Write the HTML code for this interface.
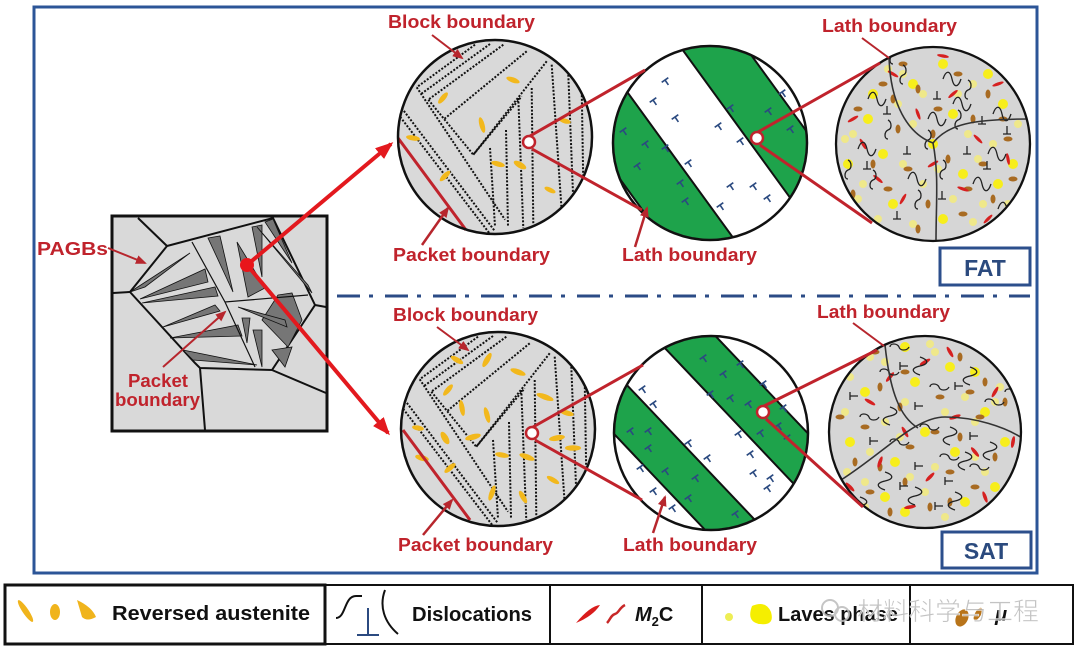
<!DOCTYPE html>
<html><head><meta charset="utf-8">
<style>
html,body{margin:0;padding:0;background:#fff;}
svg{display:block;}
.lb{font-family:"Liberation Sans",Arial,sans-serif;font-weight:bold;font-size:18px;fill:#c0232c;}
.lg{font-family:"Liberation Sans",Arial,sans-serif;font-weight:bold;font-size:20px;fill:#111;}
</style></head>
<body>
<svg width="1080" height="657" viewBox="0 0 1080 657" xmlns="http://www.w3.org/2000/svg">
<defs>
<clipPath id="c1t"><circle cx="495" cy="137" r="97"/></clipPath>
<clipPath id="c1b"><circle cx="498" cy="429" r="97"/></clipPath>
<clipPath id="cl"><circle cx="0" cy="0" r="96"/></clipPath>
<marker id="ah" markerWidth="18" markerHeight="14" refX="15" refY="7" orient="auto" markerUnits="userSpaceOnUse"><path d="M0,0 L18,7 L0,14 Z" fill="#e3191e"/></marker>
<marker id="sh" markerWidth="11" markerHeight="9" refX="9" refY="4.5" orient="auto" markerUnits="userSpaceOnUse"><path d="M0,0 L11,4.5 L0,9 Z" fill="#b7262d"/></marker>
</defs>
<rect width="1080" height="657" fill="#fff"/>

<!-- outer frame -->
<rect x="34" y="7" width="1003" height="566" fill="none" stroke="#2c5597" stroke-width="3"/>
<line x1="337" y1="296" x2="1030" y2="296" stroke="#2b4b86" stroke-width="3" stroke-dasharray="23 9 4 12"/>

<!-- FAT / SAT -->
<rect x="940" y="248" width="90" height="37" fill="#fff" stroke="#2c4f8c" stroke-width="3"/>
<text x="985" y="276" text-anchor="middle" style="font-family:'Liberation Sans',Arial,sans-serif;font-weight:bold;font-size:23px;fill:#2b4a7e">FAT</text>
<rect x="942" y="532" width="89" height="36" fill="#fff" stroke="#2c4f8c" stroke-width="3"/>
<text x="986" y="559" text-anchor="middle" style="font-family:'Liberation Sans',Arial,sans-serif;font-weight:bold;font-size:23px;fill:#2b4a7e">SAT</text>

<!-- LEFT SQUARE -->
<rect x="112" y="216" width="215" height="215" fill="#d9d9d9" stroke="#111" stroke-width="3"/>
<path d="M167,246 L273,218 L315,305 L272,370 L200,368 L195,363 L130,292 Z" fill="#d9d9d9" stroke="#111" stroke-width="2"/>
<path d="M138,218 L167,246 M130,292 L113,293 M315,305 L326,307 M272,370 L326,393 M200,368 L205,430" stroke="#111" stroke-width="2" fill="none"/>
<g fill="#767676" stroke="#111" stroke-width="0.8">
<polygon points="130,292 190,253 145,287"/>
<polygon points="140,299 205,269 208,282"/>
<polygon points="142,303 215,287 218,296"/>
<polygon points="163,327 215,305 220,311"/>
<polygon points="170,338 238,325 242,336"/>
<polygon points="183,350 257,365 193,360"/>
<polygon points="208,238 220,236 233,292"/>
<polygon points="237,242 265,288 248,297"/>
<polygon points="252,227 262,225 262,277"/>
<polygon points="265,222 273,219 292,263"/>
<polygon points="257,227 308,285 312,293"/>
<polygon points="278,295 292,293 302,320 288,347 262,320"/>
<polygon points="242,318 250,318 247,343"/>
<polygon points="253,330 262,330 262,367"/>
<polygon points="272,350 292,347 285,367"/>
<polygon points="238,307 285,320 287,327"/>
</g>
<path d="M192,242 L225,302 L308,295 M225,302 L255,367" stroke="#111" stroke-width="1.2" fill="none"/>

<!-- left labels -->
<text class="lb" x="37" y="255" textLength="71" lengthAdjust="spacingAndGlyphs">PAGBs</text>
<line x1="108" y1="248" x2="145" y2="263" stroke="#b7262d" stroke-width="2" marker-end="url(#sh)"/>
<text class="lb" x="128" y="387" textLength="60" lengthAdjust="spacingAndGlyphs">Packet</text>
<text class="lb" x="115" y="406" textLength="85" lengthAdjust="spacingAndGlyphs">boundary</text>
<line x1="163" y1="367" x2="225" y2="312" stroke="#b7262d" stroke-width="2" marker-end="url(#sh)"/>

<!-- main arrows -->
<line x1="247" y1="265" x2="391" y2="144" stroke="#e3191e" stroke-width="4" marker-end="url(#ah)"/>
<line x1="247" y1="265" x2="388" y2="433" stroke="#e3191e" stroke-width="4" marker-end="url(#ah)"/>
<circle cx="247" cy="265" r="7" fill="#e8161b"/>

<!-- ============ TOP CIRCLE 1 ============ -->
<circle cx="495" cy="137" r="97" fill="#d9d9d9"/>
<g clip-path="url(#c1t)" stroke="#111" stroke-width="2" stroke-dasharray="2 1.6" fill="none">
<path d="M475,44.7 L416.7,87.3 M503.3,44.7 L428.3,99.7 M526.7,51.3 L443.3,119.7 M546.7,61.3 L473.3,154.7 M401.7,108 L495,231.3 M416.7,87.3 L505,219.7 M428.3,99.7 L473.3,154.7 M473.3,154.7 L521.7,96.3 M518.3,98 L523.3,228 M490,148 L495,226.3 M531.7,88 L533.3,224.7 M551.7,64.7 L561.7,211.3 M568.3,74.7 L573.3,201.3 M581.7,88 L583.3,184.7 M490,44 L421,94 M398,114 L490,234 M506,130 L508,226"/>
</g>
<g fill="#f2b81c">
<ellipse cx="513" cy="80" rx="7" ry="2.6" transform="rotate(20 513 80)"/>
<ellipse cx="443" cy="98" rx="7" ry="2.6" transform="rotate(-50 443 98)"/>
<ellipse cx="482" cy="125" rx="8" ry="2.6" transform="rotate(75 482 125)"/>
<ellipse cx="413" cy="138" rx="7" ry="2.6" transform="rotate(10 413 138)"/>
<ellipse cx="445" cy="176" rx="7" ry="2.6" transform="rotate(-45 445 176)"/>
<ellipse cx="498" cy="164" rx="7" ry="2.6" transform="rotate(15 498 164)"/>
<ellipse cx="520" cy="165" rx="7" ry="3" transform="rotate(30 520 165)"/>
<ellipse cx="565" cy="121" rx="6" ry="2.4" transform="rotate(15 565 121)"/>
<ellipse cx="550" cy="190" rx="6" ry="2.4" transform="rotate(25 550 190)"/>
</g>
<line x1="398" y1="138" x2="466" y2="230" stroke="#c0232c" stroke-width="3"/>
<circle cx="495" cy="137" r="97" fill="none" stroke="#111" stroke-width="2.5"/>

<!-- ============ BOTTOM CIRCLE 1 ============ -->
<circle cx="498" cy="429" r="97" fill="#d9d9d9"/>
<g clip-path="url(#c1b)" stroke="#111" stroke-width="2" stroke-dasharray="2 1.6" fill="none">
<g transform="translate(3,292)">
<path d="M475,44.7 L416.7,87.3 M503.3,44.7 L428.3,99.7 M526.7,51.3 L443.3,119.7 M546.7,61.3 L473.3,154.7 M401.7,108 L495,231.3 M416.7,87.3 L505,219.7 M428.3,99.7 L473.3,154.7 M473.3,154.7 L521.7,96.3 M518.3,98 L523.3,228 M490,148 L495,226.3 M531.7,88 L533.3,224.7 M551.7,64.7 L561.7,211.3 M568.3,74.7 L573.3,201.3 M581.7,88 L583.3,184.7 M490,44 L421,94 M398,114 L490,234 M506,130 L508,226"/>
</g>
</g>
<g fill="#f2b81c">
<ellipse cx="457" cy="360" rx="7" ry="2.6" transform="rotate(30 457 360)"/>
<ellipse cx="487" cy="360" rx="8" ry="2.8" transform="rotate(-60 487 360)"/>
<ellipse cx="518" cy="372" rx="8" ry="2.8" transform="rotate(20 518 372)"/>
<ellipse cx="448" cy="390" rx="7" ry="2.6" transform="rotate(-50 448 390)"/>
<ellipse cx="462" cy="408" rx="8" ry="2.6" transform="rotate(80 462 408)"/>
<ellipse cx="487" cy="415" rx="8" ry="2.6" transform="rotate(75 487 415)"/>
<ellipse cx="545" cy="397" rx="9" ry="2.8" transform="rotate(20 545 397)"/>
<ellipse cx="418" cy="428" rx="6" ry="2.5" transform="rotate(10 418 428)"/>
<ellipse cx="445" cy="438" rx="7" ry="3.2" transform="rotate(60 445 438)"/>
<ellipse cx="473" cy="437" rx="8" ry="2.8" transform="rotate(-15 473 437)"/>
<ellipse cx="557" cy="438" rx="8" ry="2.8" transform="rotate(-10 557 438)"/>
<ellipse cx="573" cy="448" rx="8" ry="2.8" transform="rotate(0 573 448)"/>
<ellipse cx="422" cy="458" rx="7" ry="2.8" transform="rotate(15 422 458)"/>
<ellipse cx="450" cy="468" rx="7" ry="2.6" transform="rotate(-40 450 468)"/>
<ellipse cx="502" cy="455" rx="7" ry="2.6" transform="rotate(10 502 455)"/>
<ellipse cx="527" cy="457" rx="8" ry="2.8" transform="rotate(20 527 457)"/>
<ellipse cx="553" cy="480" rx="7" ry="2.5" transform="rotate(30 553 480)"/>
<ellipse cx="492" cy="493" rx="8" ry="2.6" transform="rotate(-70 492 493)"/>
<ellipse cx="523" cy="497" rx="7" ry="2.6" transform="rotate(60 523 497)"/>
<ellipse cx="567" cy="413" rx="7" ry="2.6" transform="rotate(15 567 413)"/>
</g>
<line x1="403" y1="430" x2="470" y2="520" stroke="#c0232c" stroke-width="3"/>
<circle cx="498" cy="429" r="97" fill="none" stroke="#111" stroke-width="2.5"/>

<!-- ============ TOP CIRCLE 2 ============ -->
<g transform="translate(710,143)">
<g clip-path="url(#cl)">
<circle r="97" fill="#fff"/>
<g transform="rotate(54)">
<rect x="-110" y="37" width="220" height="57" fill="#1ea34b"/>
<rect x="-110" y="-85" width="220" height="52.4" fill="#1ea34b"/>
<path d="M-110,37H110M-110,94H110M-110,-32.6H110M-110,-85H110" stroke="#111" stroke-width="2"/>
</g>
</g>
</g>
<path fill="none" stroke="#2b4a80" stroke-width="1.6" d="M661.7,82.3l6.6,-4.6m-3.3,2.3l3.4,4.9M649.7,102.3l6.6,-4.6m-3.3,2.3l3.4,4.9M671.7,119.3l6.6,-4.6m-3.3,2.3l3.4,4.9M714.7,127.3l6.6,-4.6m-3.3,2.3l3.4,4.9M736.7,142.3l6.6,-4.6m-3.3,2.3l3.4,4.9M684.7,164.3l6.6,-4.6m-3.3,2.3l3.4,4.9M726.7,187.3l6.6,-4.6m-3.3,2.3l3.4,4.9M749.7,187.3l6.6,-4.6m-3.3,2.3l3.4,4.9M763.7,199.3l6.6,-4.6m-3.3,2.3l3.4,4.9M716.7,207.3l6.6,-4.6m-3.3,2.3l3.4,4.9M778.7,94.3l6.6,-4.6m-3.3,2.3l3.4,4.9M764.7,112.3l6.6,-4.6m-3.3,2.3l3.4,4.9M786.7,130.3l6.6,-4.6m-3.3,2.3l3.4,4.9M619.7,132.3l6.6,-4.6m-3.3,2.3l3.4,4.9M641.7,145.3l6.6,-4.6m-3.3,2.3l3.4,4.9M661.7,149.3l6.6,-4.6m-3.3,2.3l3.4,4.9M633.7,167.3l6.6,-4.6m-3.3,2.3l3.4,4.9M676.7,184.3l6.6,-4.6m-3.3,2.3l3.4,4.9M681.7,202.3l6.6,-4.6m-3.3,2.3l3.4,4.9M726.7,109.3l6.6,-4.6m-3.3,2.3l3.4,4.9"/>
<circle cx="710" cy="143" r="97" fill="none" stroke="#111" stroke-width="2.5"/>

<!-- ============ BOTTOM CIRCLE 2 ============ -->
<g transform="translate(711,433)">
<g clip-path="url(#cl)">
<circle r="97" fill="#fff"/>
<g transform="rotate(46.5)">
<rect x="-110" y="28" width="220" height="43" fill="#1ea34b"/>
<rect x="-110" y="-70" width="220" height="45" fill="#1ea34b"/>
<path d="M-110,28H110M-110,71H110M-110,-25H110M-110,-70H110" stroke="#111" stroke-width="2"/>
</g>
</g>
</g>
<path fill="none" stroke="#2b4a80" stroke-width="1.6" d="M699.7,359.3l6.6,-4.6m-3.3,2.3l3.4,4.9M719.7,375.3l6.6,-4.6m-3.3,2.3l3.4,4.9M706.7,395.3l6.6,-4.6m-3.3,2.3l3.4,4.9M726.7,399.3l6.6,-4.6m-3.3,2.3l3.4,4.9M744.7,405.3l6.6,-4.6m-3.3,2.3l3.4,4.9M736.7,365.3l6.6,-4.6m-3.3,2.3l3.4,4.9M759.7,385.3l6.6,-4.6m-3.3,2.3l3.4,4.9M779.7,409.3l6.6,-4.6m-3.3,2.3l3.4,4.9M756.7,434.3l6.6,-4.6m-3.3,2.3l3.4,4.9M774.7,427.3l6.6,-4.6m-3.3,2.3l3.4,4.9M638.7,390.3l6.6,-4.6m-3.3,2.3l3.4,4.9M649.7,405.3l6.6,-4.6m-3.3,2.3l3.4,4.9M626.7,432.3l6.6,-4.6m-3.3,2.3l3.4,4.9M644.7,432.3l6.6,-4.6m-3.3,2.3l3.4,4.9M644.7,449.3l6.6,-4.6m-3.3,2.3l3.4,4.9M684.7,444.3l6.6,-4.6m-3.3,2.3l3.4,4.9M703.7,459.3l6.6,-4.6m-3.3,2.3l3.4,4.9M734.7,435.3l6.6,-4.6m-3.3,2.3l3.4,4.9M746.7,455.3l6.6,-4.6m-3.3,2.3l3.4,4.9M749.7,474.3l6.6,-4.6m-3.3,2.3l3.4,4.9M766.7,479.3l6.6,-4.6m-3.3,2.3l3.4,4.9M763.7,489.3l6.6,-4.6m-3.3,2.3l3.4,4.9M636.7,469.3l6.6,-4.6m-3.3,2.3l3.4,4.9M661.7,472.3l6.6,-4.6m-3.3,2.3l3.4,4.9M649.7,492.3l6.6,-4.6m-3.3,2.3l3.4,4.9M668.7,509.3l6.6,-4.6m-3.3,2.3l3.4,4.9M684.7,499.3l6.6,-4.6m-3.3,2.3l3.4,4.9M691.7,479.3l6.6,-4.6m-3.3,2.3l3.4,4.9M731.7,515.3l6.6,-4.6m-3.3,2.3l3.4,4.9M783.7,439.3l6.6,-4.6m-3.3,2.3l3.4,4.9"/>
<circle cx="711" cy="433" r="97" fill="none" stroke="#111" stroke-width="2.5"/>

<!-- ============ TOP CIRCLE 3 ============ -->
<g transform="translate(933,144)">
<g clip-path="url(#cl)">
<circle r="97" fill="#d6d6d6"/>
<g fill="#efe88a">
<circle cx="-30" cy="-70" r="4"/><circle cx="40" cy="-60" r="4"/><circle cx="-80" cy="-10" r="4"/><circle cx="-20" cy="-20" r="4"/><circle cx="60" cy="0" r="4"/><circle cx="-70" cy="40" r="4"/><circle cx="-10" cy="40" r="4"/><circle cx="50" cy="60" r="4"/><circle cx="-20" cy="80" r="4"/><circle cx="85" cy="-20" r="4"/><circle cx="35" cy="-10" r="4"/><circle cx="-35" cy="-40" r="4"/><circle cx="-55" cy="75" r="4"/><circle cx="20" cy="55" r="4"/><circle cx="-10" cy="-50" r="4"/><circle cx="40" cy="78" r="4"/><circle cx="-45" cy="-75" r="4"/><circle cx="75" cy="60" r="4"/><circle cx="-88" cy="-5" r="4"/><circle cx="5" cy="25" r="4"/><circle cx="45" cy="15" r="4"/><circle cx="-30" cy="20" r="4"/><circle cx="25" cy="-50" r="4"/><circle cx="-75" cy="55" r="4"/>
</g>
<g fill="#f7ee1c">
<circle cx="-60" cy="-50" r="5"/><circle cx="10" cy="-80" r="5"/><circle cx="70" cy="-40" r="5"/><circle cx="-50" cy="10" r="5"/><circle cx="20" cy="-30" r="5"/><circle cx="80" cy="20" r="5"/><circle cx="-40" cy="60" r="5"/><circle cx="30" cy="30" r="5"/><circle cx="10" cy="75" r="5"/><circle cx="-85" cy="20" r="5"/><circle cx="0" cy="0" r="5"/><circle cx="55" cy="-70" r="5"/><circle cx="-65" cy="-25" r="5"/><circle cx="65" cy="40" r="5"/><circle cx="-20" cy="-60" r="5"/>
</g>
<g fill="#a86b22">
<ellipse cx="-50" cy="-60" rx="4.5" ry="2.5"/><ellipse cx="-15" cy="-55" rx="2.5" ry="4.5"/><ellipse cx="25" cy="-70" rx="4.5" ry="2.5"/><ellipse cx="55" cy="-50" rx="2.5" ry="4.5"/><ellipse cx="-75" cy="-35" rx="4.5" ry="2.5"/><ellipse cx="-35" cy="-15" rx="2.5" ry="4.5"/><ellipse cx="5" cy="-35" rx="4.5" ry="2.5"/><ellipse cx="40" cy="-25" rx="2.5" ry="4.5"/><ellipse cx="75" cy="-5" rx="4.5" ry="2.5"/><ellipse cx="-60" cy="20" rx="2.5" ry="4.5"/><ellipse cx="-25" cy="25" rx="4.5" ry="2.5"/><ellipse cx="15" cy="15" rx="2.5" ry="4.5"/><ellipse cx="50" cy="20" rx="4.5" ry="2.5"/><ellipse cx="-80" cy="50" rx="2.5" ry="4.5"/><ellipse cx="-45" cy="45" rx="4.5" ry="2.5"/><ellipse cx="-5" cy="60" rx="2.5" ry="4.5"/><ellipse cx="30" cy="70" rx="4.5" ry="2.5"/><ellipse cx="60" cy="55" rx="2.5" ry="4.5"/><ellipse cx="-30" cy="-80" rx="4.5" ry="2.5"/><ellipse cx="0" cy="-10" rx="2.5" ry="4.5"/><ellipse cx="70" cy="-25" rx="4.5" ry="2.5"/><ellipse cx="-15" cy="85" rx="2.5" ry="4.5"/><ellipse cx="80" cy="35" rx="4.5" ry="2.5"/><ellipse cx="-40" cy="-45" rx="2.5" ry="4.5"/><ellipse cx="35" cy="45" rx="4.5" ry="2.5"/>
</g>
<g fill="#d62020">
<ellipse cx="-40" cy="-70" rx="6" ry="1.6" transform="rotate(30 -40 -70)"/><ellipse cx="20" cy="-50" rx="6" ry="1.6" transform="rotate(-40 20 -50)"/><ellipse cx="-70" cy="0" rx="6" ry="1.6" transform="rotate(60 -70 0)"/><ellipse cx="0" cy="20" rx="6" ry="1.6" transform="rotate(-30 0 20)"/><ellipse cx="45" cy="-5" rx="6" ry="1.6" transform="rotate(45 45 -5)"/><ellipse cx="-30" cy="55" rx="6" ry="1.6" transform="rotate(-60 -30 55)"/><ellipse cx="30" cy="45" rx="6" ry="1.6" transform="rotate(20 30 45)"/><ellipse cx="65" cy="-60" rx="6" ry="1.6" transform="rotate(-20 65 -60)"/><ellipse cx="-55" cy="35" rx="6" ry="1.6" transform="rotate(40 -55 35)"/><ellipse cx="10" cy="-88" rx="6" ry="1.6" transform="rotate(10 10 -88)"/><ellipse cx="-15" cy="-30" rx="6" ry="1.6" transform="rotate(70 -15 -30)"/><ellipse cx="55" cy="75" rx="6" ry="1.6" transform="rotate(-45 55 75)"/><ellipse cx="-80" cy="-25" rx="6" ry="1.6" transform="rotate(-30 -80 -25)"/><ellipse cx="75" cy="15" rx="6" ry="1.6" transform="rotate(80 75 15)"/>
</g>
<path fill="none" stroke="#222" stroke-width="1.3" d="M-65,-45c3,-9 7,-9 9,0s6,9 9,0M-30,-60c-4,0 -4,-7 0,-9c4,-1 4,-8 0,-10M10,-65c3,-9 7,-9 9,0s6,9 9,0M35,-45c-4,0 -4,-7 0,-9c4,-1 4,-8 0,-10M-75,5c3,-9 7,-9 9,0s6,9 9,0M-45,-5c-4,0 -4,-7 0,-9c4,-1 4,-8 0,-10M-5,-25c3,-9 7,-9 9,0s6,9 9,0M25,-15c-4,0 -4,-7 0,-9c4,-1 4,-8 0,-10M55,10c3,-9 7,-9 9,0s6,9 9,0M-60,45c-4,0 -4,-7 0,-9c4,-1 4,-8 0,-10M-25,35c3,-9 7,-9 9,0s6,9 9,0M10,35c-4,0 -4,-7 0,-9c4,-1 4,-8 0,-10M40,40c3,-9 7,-9 9,0s6,9 9,0M-15,65c-4,0 -4,-7 0,-9c4,-1 4,-8 0,-10M20,-40c3,-9 7,-9 9,0s6,9 9,0M-40,-80c-4,0 -4,-7 0,-9c4,-1 4,-8 0,-10M60,-30c3,-9 7,-9 9,0s6,9 9,0M-85,35c-4,0 -4,-7 0,-9c4,-1 4,-8 0,-10M65,65c3,-9 7,-9 9,0s6,9 9,0M-5,5c-4,0 -4,-7 0,-9c4,-1 4,-8 0,-10M-50,-30h8m-4,0v-8M0,-45h8m-4,0v-8M45,-20h8m-4,0v-8M-70,25h8m-4,0v-8M-30,10h8m-4,0v-8M30,10h8m-4,0v-8M5,55h8m-4,0v-8M-40,75h8m-4,0v-8M50,25h8m-4,0v-8M70,-10h8m-4,0v-8"/>
<path fill="none" stroke="#333" stroke-width="1.6" d="M-44,-88 C-43,-40 -25,-10 0,-1 M0,-1 C15,-20 40,-25 97,-25 M0,-1 C6,30 3,60 3,97"/>
</g>
<circle r="97" fill="none" stroke="#111" stroke-width="2.3"/>
</g>

<!-- ============ BOTTOM CIRCLE 3 ============ -->
<g transform="translate(925,432)">
<g clip-path="url(#cl)">
<circle r="97" fill="#d6d6d6"/>
<g transform="rotate(90)">
<g fill="#efe88a">
<circle cx="-30" cy="-70" r="4"/><circle cx="40" cy="-60" r="4"/><circle cx="-80" cy="-10" r="4"/><circle cx="-20" cy="-20" r="4"/><circle cx="60" cy="0" r="4"/><circle cx="-70" cy="40" r="4"/><circle cx="-10" cy="40" r="4"/><circle cx="50" cy="60" r="4"/><circle cx="-20" cy="80" r="4"/><circle cx="85" cy="-20" r="4"/><circle cx="35" cy="-10" r="4"/><circle cx="-35" cy="-40" r="4"/><circle cx="-55" cy="75" r="4"/><circle cx="20" cy="55" r="4"/><circle cx="-10" cy="-50" r="4"/><circle cx="40" cy="78" r="4"/><circle cx="-45" cy="-75" r="4"/><circle cx="75" cy="60" r="4"/><circle cx="-88" cy="-5" r="4"/><circle cx="5" cy="25" r="4"/><circle cx="45" cy="15" r="4"/><circle cx="-30" cy="20" r="4"/><circle cx="25" cy="-50" r="4"/><circle cx="-75" cy="55" r="4"/>
</g>
<g fill="#f7ee1c">
<circle cx="-60" cy="-50" r="5"/><circle cx="10" cy="-80" r="5"/><circle cx="70" cy="-40" r="5"/><circle cx="-50" cy="10" r="5"/><circle cx="20" cy="-30" r="5"/><circle cx="80" cy="20" r="5"/><circle cx="-40" cy="60" r="5"/><circle cx="30" cy="30" r="5"/><circle cx="10" cy="75" r="5"/><circle cx="-85" cy="20" r="5"/><circle cx="0" cy="0" r="5"/><circle cx="55" cy="-70" r="5"/><circle cx="-65" cy="-25" r="5"/><circle cx="65" cy="40" r="5"/><circle cx="-20" cy="-60" r="5"/>
</g>
<g fill="#a86b22">
<ellipse cx="-50" cy="-60" rx="4.5" ry="2.5"/><ellipse cx="-15" cy="-55" rx="2.5" ry="4.5"/><ellipse cx="25" cy="-70" rx="4.5" ry="2.5"/><ellipse cx="55" cy="-50" rx="2.5" ry="4.5"/><ellipse cx="-75" cy="-35" rx="4.5" ry="2.5"/><ellipse cx="-35" cy="-15" rx="2.5" ry="4.5"/><ellipse cx="5" cy="-35" rx="4.5" ry="2.5"/><ellipse cx="40" cy="-25" rx="2.5" ry="4.5"/><ellipse cx="75" cy="-5" rx="4.5" ry="2.5"/><ellipse cx="-60" cy="20" rx="2.5" ry="4.5"/><ellipse cx="-25" cy="25" rx="4.5" ry="2.5"/><ellipse cx="15" cy="15" rx="2.5" ry="4.5"/><ellipse cx="50" cy="20" rx="4.5" ry="2.5"/><ellipse cx="-80" cy="50" rx="2.5" ry="4.5"/><ellipse cx="-45" cy="45" rx="4.5" ry="2.5"/><ellipse cx="-5" cy="60" rx="2.5" ry="4.5"/><ellipse cx="30" cy="70" rx="4.5" ry="2.5"/><ellipse cx="60" cy="55" rx="2.5" ry="4.5"/><ellipse cx="-30" cy="-80" rx="4.5" ry="2.5"/><ellipse cx="0" cy="-10" rx="2.5" ry="4.5"/><ellipse cx="70" cy="-25" rx="4.5" ry="2.5"/><ellipse cx="-15" cy="85" rx="2.5" ry="4.5"/><ellipse cx="80" cy="35" rx="4.5" ry="2.5"/><ellipse cx="-40" cy="-45" rx="2.5" ry="4.5"/><ellipse cx="35" cy="45" rx="4.5" ry="2.5"/>
</g>
<g fill="#d62020">
<ellipse cx="-40" cy="-70" rx="6" ry="1.8" transform="rotate(30 -40 -70)"/><ellipse cx="20" cy="-50" rx="6" ry="1.8" transform="rotate(-40 20 -50)"/><ellipse cx="-70" cy="0" rx="6" ry="1.8" transform="rotate(60 -70 0)"/><ellipse cx="0" cy="20" rx="6" ry="1.8" transform="rotate(-30 0 20)"/><ellipse cx="45" cy="-5" rx="6" ry="1.8" transform="rotate(45 45 -5)"/><ellipse cx="-30" cy="55" rx="6" ry="1.8" transform="rotate(-60 -30 55)"/><ellipse cx="30" cy="45" rx="6" ry="1.8" transform="rotate(20 30 45)"/><ellipse cx="65" cy="-60" rx="6" ry="1.8" transform="rotate(-20 65 -60)"/><ellipse cx="-55" cy="35" rx="6" ry="1.8" transform="rotate(40 -55 35)"/><ellipse cx="10" cy="-88" rx="6" ry="1.8" transform="rotate(10 10 -88)"/><ellipse cx="-15" cy="-30" rx="6" ry="1.8" transform="rotate(70 -15 -30)"/><ellipse cx="55" cy="75" rx="6" ry="1.8" transform="rotate(-45 55 75)"/><ellipse cx="-80" cy="-25" rx="6" ry="1.8" transform="rotate(-30 -80 -25)"/><ellipse cx="75" cy="15" rx="6" ry="1.8" transform="rotate(80 75 15)"/>
</g>
<path fill="none" stroke="#222" stroke-width="1.3" d="M-65,-45c3,-9 7,-9 9,0s6,9 9,0M-30,-60c-4,0 -4,-7 0,-9c4,-1 4,-8 0,-10M10,-65c3,-9 7,-9 9,0s6,9 9,0M35,-45c-4,0 -4,-7 0,-9c4,-1 4,-8 0,-10M-75,5c3,-9 7,-9 9,0s6,9 9,0M-45,-5c-4,0 -4,-7 0,-9c4,-1 4,-8 0,-10M-5,-25c3,-9 7,-9 9,0s6,9 9,0M25,-15c-4,0 -4,-7 0,-9c4,-1 4,-8 0,-10M55,10c3,-9 7,-9 9,0s6,9 9,0M-60,45c-4,0 -4,-7 0,-9c4,-1 4,-8 0,-10M-25,35c3,-9 7,-9 9,0s6,9 9,0M10,35c-4,0 -4,-7 0,-9c4,-1 4,-8 0,-10M40,40c3,-9 7,-9 9,0s6,9 9,0M-15,65c-4,0 -4,-7 0,-9c4,-1 4,-8 0,-10M20,-40c3,-9 7,-9 9,0s6,9 9,0M-40,-80c-4,0 -4,-7 0,-9c4,-1 4,-8 0,-10M60,-30c3,-9 7,-9 9,0s6,9 9,0M-85,35c-4,0 -4,-7 0,-9c4,-1 4,-8 0,-10M65,65c3,-9 7,-9 9,0s6,9 9,0M-5,5c-4,0 -4,-7 0,-9c4,-1 4,-8 0,-10M-50,-30h8m-4,0v-8M0,-45h8m-4,0v-8M45,-20h8m-4,0v-8M-70,25h8m-4,0v-8M-30,10h8m-4,0v-8M30,10h8m-4,0v-8M5,55h8m-4,0v-8M-40,75h8m-4,0v-8M50,25h8m-4,0v-8M70,-10h8m-4,0v-8"/>
</g>
<path fill="none" stroke="#333" stroke-width="1.6" d="M-40,-87 C-35,-40 -25,-15 -7,-4 M-84,48 C-40,20 -10,-15 20,-15 C50,-15 80,-5 97,6"/>
</g>
<circle r="96" fill="none" stroke="#111" stroke-width="2.3"/>
</g>

<!-- magnification connectors -->
<g stroke="#c0232c" stroke-width="3" fill="none">
<line x1="530" y1="136" x2="645" y2="70"/>
<line x1="532" y1="149" x2="642" y2="210"/>
<line x1="758" y1="132" x2="880" y2="63"/>
<line x1="760" y1="145" x2="872" y2="223"/>
<line x1="533" y1="427" x2="643" y2="365"/>
<line x1="535" y1="440" x2="642" y2="500"/>
<line x1="764" y1="406" x2="877" y2="350"/>
<line x1="766" y1="419" x2="863" y2="507"/>
</g>
<g stroke="#c0232c" stroke-width="2.5" fill="#fff">
<circle cx="529" cy="142" r="6"/>
<circle cx="757" cy="138" r="6"/>
<circle cx="532" cy="433" r="6"/>
<circle cx="763" cy="412" r="6"/>
</g>

<!-- labels -->
<text class="lb" x="388" y="28" textLength="147" lengthAdjust="spacingAndGlyphs">Block boundary</text>
<line x1="432" y1="35" x2="462" y2="58" stroke="#b7262d" stroke-width="2" marker-end="url(#sh)"/>
<text class="lb" x="393" y="261" textLength="157" lengthAdjust="spacingAndGlyphs">Packet boundary</text>
<line x1="422" y1="245" x2="448" y2="208" stroke="#b7262d" stroke-width="2.5" marker-end="url(#sh)"/>
<text class="lb" x="622" y="261" textLength="135" lengthAdjust="spacingAndGlyphs">Lath boundary</text>
<line x1="635" y1="247" x2="647" y2="208" stroke="#b7262d" stroke-width="2.5" marker-end="url(#sh)"/>
<text class="lb" x="822" y="32" textLength="135" lengthAdjust="spacingAndGlyphs">Lath boundary</text>
<line x1="862" y1="38" x2="889" y2="58" stroke="#b7262d" stroke-width="2"/>

<text class="lb" x="393" y="321" textLength="145" lengthAdjust="spacingAndGlyphs">Block boundary</text>
<line x1="437" y1="327" x2="468" y2="350" stroke="#b7262d" stroke-width="2" marker-end="url(#sh)"/>
<text class="lb" x="398" y="551" textLength="155" lengthAdjust="spacingAndGlyphs">Packet boundary</text>
<line x1="423" y1="535" x2="452" y2="500" stroke="#b7262d" stroke-width="2.5" marker-end="url(#sh)"/>
<text class="lb" x="623" y="551" textLength="134" lengthAdjust="spacingAndGlyphs">Lath boundary</text>
<line x1="653" y1="533" x2="665" y2="497" stroke="#b7262d" stroke-width="2.5" marker-end="url(#sh)"/>
<text class="lb" x="817" y="318" textLength="133" lengthAdjust="spacingAndGlyphs">Lath boundary</text>
<line x1="853" y1="323" x2="884" y2="346" stroke="#b7262d" stroke-width="2"/>

<!-- ============ LEGEND ============ -->
<rect x="5" y="585" width="320" height="59" fill="#fff" stroke="#111" stroke-width="3"/>
<g fill="none" stroke="#111" stroke-width="2">
<rect x="325" y="585" width="748" height="59"/>
<line x1="550" y1="585" x2="550" y2="644"/>
<line x1="702" y1="585" x2="702" y2="644"/>
<line x1="910" y1="585" x2="910" y2="644"/>
</g>
<g fill="#f0b41c">
<ellipse cx="25.5" cy="611" rx="13" ry="3" transform="rotate(56 25.5 611)"/>
<ellipse cx="55" cy="612" rx="5" ry="8"/>
<path d="M77,600 Q92,607 96,617 Q87,622 82,617 Z"/>
</g>
<text class="lg" x="112" y="620" textLength="198" lengthAdjust="spacingAndGlyphs">Reversed austenite</text>

<path d="M336,618 C346,618 344,596 356,596 L362,596" fill="none" stroke="#111" stroke-width="2"/>
<path d="M357,635 h22 M368,635 v-27" fill="none" stroke="#2b4a80" stroke-width="2"/>
<path d="M385,590 C379,606 384,622 398,634" fill="none" stroke="#111" stroke-width="2"/>
<text class="lg" x="412" y="621" textLength="120" lengthAdjust="spacingAndGlyphs">Dislocations</text>

<path d="M576,623 Q590,606 600,605 Q593,616 576,623 Z" fill="#d91c1c"/>
<path d="M607,623 c3,-3 4,-8 8,-9 c4,-1 4,-6 10,-9" fill="none" stroke="#c82828" stroke-width="2.5"/>
<text class="lg" x="635" y="621"><tspan font-style="italic">M</tspan><tspan font-size="13" dy="5">2</tspan><tspan dy="-5">C</tspan></text>

<circle cx="729" cy="617" r="4" fill="#eeee55"/>
<path d="M752,606 Q766,600 771,612 Q775,626 760,624 Q746,622 752,606 Z" fill="#f5ee00"/>
<text class="lg" x="778" y="621" textLength="120" lengthAdjust="spacingAndGlyphs">Laves phase</text>

<ellipse cx="962" cy="618" rx="6" ry="9" transform="rotate(25 962 618)" fill="#b8741a"/>
<ellipse cx="978" cy="614" rx="3" ry="7" transform="rotate(30 978 614)" fill="#b8741a"/>
<text class="lg" x="995" y="621" font-style="italic">μ</text>

<!-- watermark -->
<g opacity="0.85">
<circle cx="830" cy="608" r="8" fill="none" stroke="#bbb" stroke-width="2"/>
<circle cx="842" cy="614" r="7" fill="none" stroke="#bbb" stroke-width="2"/>
<text x="857" y="620" style="font-family:'Liberation Sans','Noto Sans CJK SC',sans-serif;font-size:25px;fill:#b9b9b9;stroke:#fff;stroke-width:0.6" textLength="182" lengthAdjust="spacingAndGlyphs">材料科学与工程</text>
</g>
</svg>
</body></html>
